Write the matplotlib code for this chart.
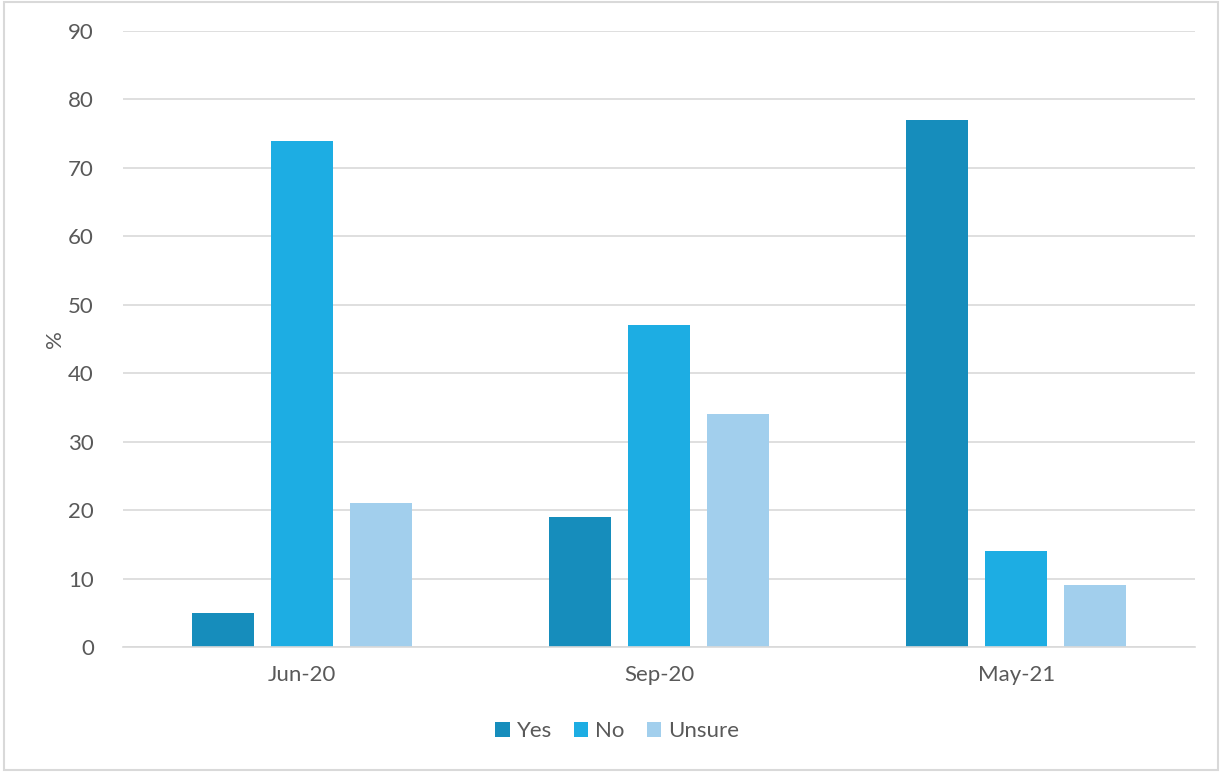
import matplotlib.pyplot as plt
import numpy as np

categories = ["Jun-20", "Sep-20", "May-21"]
series = ["Yes", "No", "Unsure"]
yes = [5, 19, 77]
no = [74, 47, 14]
unsure = [21, 34, 9]
colors = ["#168DBC", "#1DADE3", "#A2CFED"]

plt.rcParams['font.family'] = ['Lato', 'DejaVu Sans']
text_col = "#595959"

fig = plt.figure(figsize=(12.22, 7.72), dpi=100)
ax = fig.add_axes([123 / 1222, 125 / 772, 1072 / 1222, 616 / 772])

x = np.arange(len(categories))
width = 0.174
step = 0.221
for i, (name, vals) in enumerate(zip(series, [yes, no, unsure])):
    ax.bar(x + (i - 1) * step, vals, width, color=colors[i], label=name, zorder=3)

ax.set_xlim(-0.5, 2.5)
ax.set_ylim(0, 90)
ax.set_yticks(range(0, 91, 10))
ax.set_xticks(x)
ax.set_xticklabels(categories)
ax.tick_params(axis='both', length=0, colors=text_col, labelsize=16)
ax.tick_params(axis='y', pad=21)
ax.tick_params(axis='x', pad=13)
ax.yaxis.grid(True, color="#D9D9D9", linewidth=1.2, zorder=0)
for s in ["top", "right", "left"]:
    ax.spines[s].set_visible(False)
ax.spines["bottom"].set_color("#D9D9D9")
ax.spines["bottom"].set_linewidth(1.2)
ax.spines["bottom"].set_zorder(4)

ax.set_ylabel("%", color=text_col, fontsize=16, labelpad=2)

leg = fig.legend(loc="center", bbox_to_anchor=(0.505, 1 - 731 / 772), ncol=3,
                 frameon=False, fontsize=16, handlelength=0.65, handleheight=0.65,
                 handletextpad=0.3, columnspacing=1.0)
for t in leg.get_texts():
    t.set_color(text_col)

# outer frame
fig.patches.append(plt.Rectangle((0.003, 0.003), 0.994, 0.994, transform=fig.transFigure,
                                 fill=False, edgecolor="#D9D9D9", linewidth=1.5))

fig.savefig("out.png", dpi=100)
